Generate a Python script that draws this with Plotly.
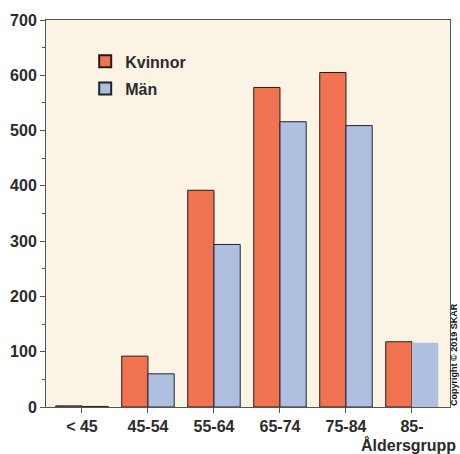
import plotly.graph_objects as go

# Age groups and counts per sex
age_groups = ["< 45", "45-54", "55-64", "65-74", "75-84", "85-"]
kvinnor = [2, 92, 392, 578, 605, 118]
man = [1, 60, 294, 516, 509, 116]
y_ticks = [0, 100, 200, 300, 400, 500, 600, 700]

FONT = "Liberation Sans, Arial, sans-serif"
TXT = "#2b2b2b"
AX = "#555555"

fig = go.Figure()
fig.add_trace(go.Bar(
    x=age_groups, y=kvinnor, name="Kvinnor",
    marker=dict(color="#F27352", line=dict(color="#2a1a14", width=1)),
    legend="legend",
))
fig.add_trace(go.Bar(
    x=age_groups, y=man, name="Män",
    marker=dict(color="#AEBFE0",
                line=dict(color="#1e2530", width=[1, 1, 1, 1, 1, 0])),
    legend="legend2",
))

legend_common = dict(
    font=dict(family=FONT, size=16, color=TXT, weight="bold"),
    bgcolor="rgba(0,0,0,0)", xanchor="left", yanchor="middle",
    itemsizing="constant",
)

fig.update_layout(
    width=460, height=454,
    margin=dict(l=46, r=10, t=20, b=47),
    paper_bgcolor="white",
    plot_bgcolor="#FBF3E4",
    barmode="group",
    bargap=0.205,
    bargroupgap=0,
    showlegend=True,
    legend=dict(x=0.097, y=0.893, **legend_common),
    legend2=dict(x=0.097, y=0.823, **legend_common),
    font=dict(family=FONT, color=TXT),
    xaxis=dict(
        range=[-0.545, 5.576],
        showline=True, linecolor=AX, linewidth=1, mirror=True,
        ticks="outside", ticklen=5, tickcolor=AX,
        tickfont=dict(family=FONT, size=16, color=TXT, weight="bold"),
        showgrid=False, zeroline=False,
    ),
    yaxis=dict(
        range=[0, 700],
        tickvals=y_ticks,
        showline=True, linecolor=AX, linewidth=1, mirror=True,
        ticks="outside", ticklen=5, tickcolor=AX,
        minor=dict(dtick=50, ticks="outside", ticklen=3, tickcolor=AX),
        tickfont=dict(family=FONT, size=16, color=TXT, weight="bold"),
        showgrid=False, zeroline=False,
    ),
    annotations=[
        dict(text="Åldersgrupp", xref="paper", yref="paper",
             x=1.02, y=-0.099, xanchor="right", yanchor="middle",
             showarrow=False,
             font=dict(family=FONT, size=16, color=TXT, weight="bold")),
        dict(text="Copyright © 2019 SKAR", xref="paper", yref="paper",
             x=1.0105, y=0.135, xanchor="center", yanchor="middle",
             textangle=-90, showarrow=False,
             font=dict(family=FONT, size=9, color="#111111", weight="bold")),
    ],
)

fig.write_html("out.html")
